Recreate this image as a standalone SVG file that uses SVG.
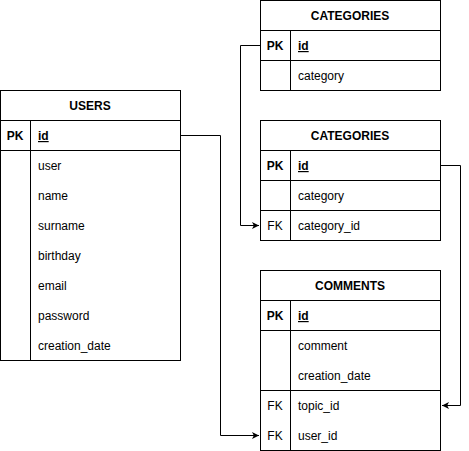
<svg xmlns="http://www.w3.org/2000/svg" width="469" height="451" viewBox="0 0 469 451">
<style>
.box{fill:#fff;stroke:#000;stroke-width:1}
.ln{stroke:#000;stroke-width:1;fill:none}
text{font-family:"Liberation Sans",Arial,Helvetica,sans-serif;font-size:12px;fill:#000}
.h{font-weight:bold;text-anchor:middle}
.k{text-anchor:middle}
.pk{font-weight:bold;text-anchor:middle}
.id{font-weight:bold;text-decoration:underline}
.edge{stroke:#000;stroke-width:1;fill:none}
</style>
<defs>
<marker id="arr" markerWidth="8" markerHeight="8" refX="7" refY="4" orient="auto" markerUnits="userSpaceOnUse">
<path d="M0,0.5 L7,4 L0,7.5 L1.8,4 Z" fill="#000"/>
</marker>
</defs>
<rect width="469" height="451" fill="#fff"/>
<g id="connectors">
<path class="edge" d="M180.5,135.5 H220.5 V435.5 H259" marker-end="url(#arr)"/>
<path class="edge" d="M260.5,45.5 H240.5 V225.5 H259" marker-end="url(#arr)"/>
<path class="edge" d="M440.5,165.5 H460.5 V405.5 H442" marker-end="url(#arr)"/>
</g>
<g id="users">
<rect class="box" x="0.5" y="90.5" width="180" height="270"/>
<path class="ln" d="M0.5,120.5 H180.5 M0.5,150.5 H180.5 M30.5,120.5 V360.5"/>
<text class="h" x="90" y="110">USERS</text>
<text class="pk" x="15" y="140">PK</text>
<text class="id" x="38" y="140">id</text>
<text x="38" y="170">user</text>
<text x="38" y="200">name</text>
<text x="38" y="230">surname</text>
<text x="38" y="260">birthday</text>
<text x="38" y="290">email</text>
<text x="38" y="320">password</text>
<text x="38" y="350">creation_date</text>
</g>
<g id="categories1">
<rect class="box" x="260.5" y="0.5" width="180" height="90"/>
<path class="ln" d="M260.5,30.5 H440.5 M260.5,60.5 H440.5 M290.5,30.5 V90.5"/>
<text class="h" x="350" y="20">CATEGORIES</text>
<text class="pk" x="275" y="50">PK</text>
<text class="id" x="298" y="50">id</text>
<text x="298" y="80">category</text>
</g>
<g id="categories2">
<rect class="box" x="260.5" y="120.5" width="180" height="120"/>
<path class="ln" d="M260.5,150.5 H440.5 M260.5,180.5 H440.5 M260.5,210.5 H440.5 M290.5,150.5 V240.5"/>
<text class="h" x="350" y="140">CATEGORIES</text>
<text class="pk" x="275" y="170">PK</text>
<text class="id" x="298" y="170">id</text>
<text x="298" y="200">category</text>
<text class="k" x="275" y="230">FK</text>
<text x="298" y="230">category_id</text>
</g>
<g id="comments">
<rect class="box" x="260.5" y="270.5" width="180" height="180"/>
<path class="ln" d="M260.5,300.5 H440.5 M260.5,330.5 H440.5 M260.5,390.5 H440.5 M290.5,300.5 V450.5"/>
<text class="h" x="350" y="290">COMMENTS</text>
<text class="pk" x="275" y="320">PK</text>
<text class="id" x="298" y="320">id</text>
<text x="298" y="350">comment</text>
<text x="298" y="380">creation_date</text>
<text class="k" x="275" y="410">FK</text>
<text x="298" y="410">topic_id</text>
<text class="k" x="275" y="440">FK</text>
<text x="298" y="440">user_id</text>
</g>
</svg>
